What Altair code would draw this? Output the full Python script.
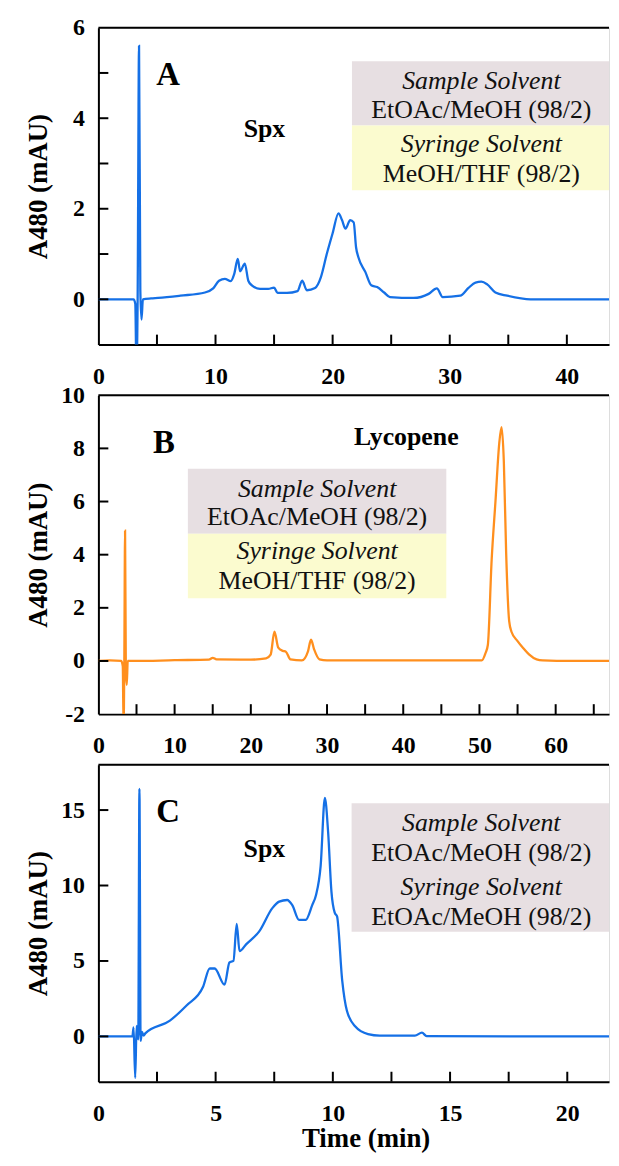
import altair as alt
import pandas as pd

FONT = "'Liberation Serif', 'Times New Roman', 'DejaVu Serif', serif"
BLUE = "#1570e6"
ORANGE = "#ff8f1e"
MAUVE = "#e7dfe2"
YELLOW = "#fbfbcf"

# ---------------- Panel A (Spx, MeOH/THF syringe) ----------------
a_time = [0, 1.0, 2.0, 3.0, 3.15, 3.25, 3.35, 3.47, 3.58, 3.68, 3.8, 4.5, 5.1, 7.0, 9.1,
          9.8, 10.3, 10.8, 11.3, 11.6, 11.9, 12.1, 12.5, 12.8, 13.1, 13.8, 14.5, 15.0,
          15.3, 16.1, 17.0, 17.4, 17.8, 18.5, 19.0, 19.5, 20.0, 20.5, 20.8, 21.1, 21.5,
          21.8, 22.0, 22.2, 22.8, 23.3, 23.8, 24.4, 24.9, 26.9, 28.2, 28.9, 29.4, 30.9,
          31.6, 32.2, 32.7, 33.2, 33.9, 34.9, 36.9, 40.0, 43.6]
a_abs = [0, 0.0, 0.0, 0.0, -0.1, -1.6, 0.0, 5.6, 0.2, -0.45, 0.0, 0.02, 0.03, 0.08, 0.15,
         0.24, 0.41, 0.45, 0.4, 0.56, 0.89, 0.62, 0.79, 0.41, 0.31, 0.23, 0.23, 0.26,
         0.14, 0.14, 0.18, 0.41, 0.2, 0.25, 0.49, 1.0, 1.46, 1.9, 1.75, 1.56, 1.75,
         1.7, 1.15, 0.93, 0.6, 0.31, 0.27, 0.15, 0.05, 0.03, 0.12, 0.24, 0.05, 0.08,
         0.25, 0.37, 0.39, 0.33, 0.15, 0.08, 0.0, 0.0, 0.0]
a_xlabels = [0, 10, 20, 30, 40]
a_xticks = [5, 10, 15, 20, 25, 30, 35, 40]
a_ylabels = [0, 2, 4, 6]
a_yticks = [0, 1, 2, 3, 4, 5]

# ---------------- Panel B (Lycopene) ----------------
b_time = [0, 1.5, 3.0, 3.2, 3.3, 3.4, 3.5, 3.6, 3.72, 3.85, 5, 10, 14.5, 15.0, 15.5, 20,
          22.0, 22.6, 23.1, 23.6, 24.2, 24.6, 25.2, 26.7, 27.5, 27.9, 28.3, 29.0, 30, 40,
          50.3, 50.8, 51.1, 51.6, 52.1, 52.6, 52.9, 53.2, 53.5, 53.9, 54.2, 55.0, 55.7,
          56.5, 57.5, 58.3, 62, 67.0]
b_abs = [0, 0.02, 0.0, -0.2, -2.5, 0.0, 4.9, -0.3, -0.9, 0.0, 0.0, 0.03, 0.05, 0.12, 0.06,
         0.05, 0.1, 0.24, 1.1, 0.5, 0.38, 0.35, 0.06, 0.02, 0.36, 0.8, 0.44, 0.06, 0.02,
         0.02, 0.02, 0.3, 0.6, 3.8, 6.0, 8.2, 8.8, 7.5, 4.1, 1.5, 1.1, 0.75, 0.5, 0.25,
         0.06, 0.02, 0.0, 0.0]
b_xlabels = [0, 10, 20, 30, 40, 50, 60]
b_xticks = [5, 10, 15, 20, 25, 30, 35, 40, 45, 50, 55, 60, 65]
b_ylabels = [-2, 0, 2, 4, 6, 8, 10]
b_yticks = [0, 2, 4, 6, 8]

# ---------------- Panel C (Spx, EtOAc/MeOH syringe) ----------------
c_time = [0, 1.45, 1.5, 1.57, 1.63, 1.7, 1.75, 1.8, 1.86, 1.93, 2.0, 3.05, 3.76, 4.46,
          4.75, 4.96, 5.38, 5.59, 5.76, 5.9, 6.02, 6.3, 6.86, 7.42, 7.71, 8.05, 8.27,
          8.56, 8.84, 9.12, 9.28, 9.48, 9.66, 9.8, 9.94, 10.08, 10.18, 10.4, 10.6,
          10.96, 11.5, 12.0, 13.5, 13.8, 14.0, 18, 21.78]
c_abs = [0, 0.0, 0.6, -2.75, 0.7, -0.2, 16.4, -0.3, 0.3, 0.05, 0.2, 1.05, 2.05, 3.27,
         4.5, 4.5, 3.43, 4.9, 5.0, 7.45, 5.65, 6.1, 6.96, 8.5, 8.93, 9.04, 8.7,
         7.72, 7.72, 8.7, 9.36, 11.3, 15.8, 13.5, 9.6, 8.2, 7.95, 3.7, 1.7,
         0.65, 0.15, 0.05, 0.05, 0.25, 0.02, 0.0, 0.0]
c_xlabels = [0, 5, 10, 15, 20]
c_xticks = [2.5, 5, 7.5, 10, 12.5, 15, 17.5, 20]
c_ylabels = [0, 5, 10, 15]
c_yticks = [0, 5, 10, 15]

# ---------------- Annotations (data coordinates) ----------------
a_letter = {"x": [5.94], "y": [4.96], "t": ["A"]}
a_name = {"x": [14.18], "y": [3.77], "t": ["Spx"]}
a_boxes = {"x": [21.65, 21.65], "x2": [43.6, 43.6], "y": [5.26, 3.84], "y2": [3.84, 2.41],
           "c": [MAUVE, YELLOW]}
a_head = {"x": [32.7, 32.7], "y": [4.82, 3.42], "t": ["Sample Solvent", "Syringe Solvent"]}
a_body = {"x": [32.7, 32.7], "y": [4.19, 2.76], "t": ["EtOAc/MeOH (98/2)", "MeOH/THF (98/2)"]}

b_letter = {"x": [8.6], "y": [8.2], "t": ["B"]}
b_name = {"x": [40.4], "y": [8.43], "t": ["Lycopene"]}
b_boxes = {"x": [11.74, 11.74], "x2": [45.65, 45.65], "y": [7.23, 4.79], "y2": [4.79, 2.36],
           "c": [MAUVE, YELLOW]}
b_head = {"x": [28.7, 28.7], "y": [6.48, 4.12], "t": ["Sample Solvent", "Syringe Solvent"]}
b_body = {"x": [28.7, 28.7], "y": [5.43, 3.0], "t": ["EtOAc/MeOH (98/2)", "MeOH/THF (98/2)"]}

c_letter = {"x": [2.97], "y": [14.87], "t": ["C"]}
c_name = {"x": [7.08], "y": [12.44], "t": ["Spx"]}
c_boxes = {"x": [10.8], "x2": [21.78], "y": [15.45], "y2": [6.94], "c": [MAUVE]}
c_head = {"x": [16.33, 16.33], "y": [14.15, 9.89], "t": ["Sample Solvent", "Syringe Solvent"]}
c_body = {"x": [16.33, 16.33], "y": [12.18, 7.92], "t": ["EtOAc/MeOH (98/2)", "EtOAc/MeOH (98/2)"]}

W = 514


def panel(times, vals, color, xdom, ydom, H, xlabels, xticks, ylabels, yticks,
          letter, name, boxes, head, body, xtitle):
    xs = alt.Scale(domain=xdom, nice=False, zero=False)
    ys = alt.Scale(domain=ydom, nice=False, zero=False)

    xaxis_kw = dict(values=xlabels, ticks=False, tickSize=0, grid=False, domain=True,
                    domainColor="black", domainWidth=2, labelFont=FONT, labelFontSize=24,
                    labelFontWeight="bold", labelColor="black", labelPadding=20,
                    labelFlush=False, labelOverlap=False,
                    labelExpr="toString(datum.value)")
    if xtitle:
        xaxis = alt.Axis(title=xtitle, titleFont=FONT, titleFontSize=27,
                         titleFontWeight="bold", titleColor="black", titleY=57,
                         titleX=269, titleAlign="center",
                         titleBaseline="middle", **xaxis_kw)
    else:
        xaxis = alt.Axis(title="", **xaxis_kw)
    yaxis = alt.Axis(values=ylabels, ticks=False, tickSize=0, grid=False, domain=True,
                     domainColor="black", domainWidth=2, labelFont=FONT, labelFontSize=24,
                     labelFontWeight="bold", labelColor="black", labelPadding=14,
                     labelFlush=False, labelOverlap=False,
                     labelExpr="toString(datum.value)",
                     title="A480 (mAU)", titleFont=FONT, titleFontSize=27,
                     titleFontWeight="bold", titleColor="black", titleX=-60, titleY=H / 2,
                     titleAngle=270, titleAlign="center", titleBaseline="middle")

    def X(f):
        return alt.X(f, type="quantitative", scale=xs, axis=xaxis)

    def Y(f):
        return alt.Y(f, type="quantitative", scale=ys, axis=yaxis)

    df = pd.DataFrame({"t": times, "v": vals})
    rects = alt.Chart(pd.DataFrame(boxes)).mark_rect().encode(
        x=X("x"), x2="x2", y=Y("y"), y2="y2", color=alt.Color("c:N", scale=None))
    line = alt.Chart(df).mark_line(color=color, strokeWidth=2.3, clip=True,
                                   interpolate="monotone").encode(x=X("t"), y=Y("v"))
    let = alt.Chart(pd.DataFrame(letter)).mark_text(
        font=FONT, fontSize=33, fontWeight="bold", color="black",
        align="center", baseline="middle").encode(x=X("x"), y=Y("y"), text="t:N")
    nam = alt.Chart(pd.DataFrame(name)).mark_text(
        font=FONT, fontSize=26, fontWeight="bold", color="black",
        align="center", baseline="middle").encode(x=X("x"), y=Y("y"), text="t:N")
    hd = alt.Chart(pd.DataFrame(head)).mark_text(
        font=FONT, fontSize=26, fontStyle="italic", color="#111111",
        align="center", baseline="middle").encode(x=X("x"), y=Y("y"), text="t:N")
    bd = alt.Chart(pd.DataFrame(body)).mark_text(
        font=FONT, fontSize=26, color="#111111",
        align="center", baseline="middle").encode(x=X("x"), y=Y("y"), text="t:N")
    ytk = alt.Chart(pd.DataFrame({"v": yticks})).mark_rule(color="black", strokeWidth=2).encode(
        y=Y("v"), x=alt.value(0), x2=alt.value(10))
    xtk = alt.Chart(pd.DataFrame({"v": xticks})).mark_rule(color="black", strokeWidth=2).encode(
        x=X("v"), y=alt.value(H), y2=alt.value(H - 10))
    border = alt.Chart(pd.DataFrame({"v": [0]})).mark_rule(color="black", strokeWidth=2).encode(
        x=alt.value(0), x2=alt.value(W), y=alt.value(0))
    return alt.layer(rects, line, let, nam, hd, bd, ytk, xtk, border).properties(
        width=W, height=H)


pA = panel(a_time, a_abs, BLUE, [0, 43.6], [-1, 6], 319, a_xlabels, a_xticks, a_ylabels,
           a_yticks, a_letter, a_name, a_boxes, a_head, a_body, None)
pB = panel(b_time, b_abs, ORANGE, [0, 67.0], [-2, 10], 321, b_xlabels, b_xticks, b_ylabels,
           b_yticks, b_letter, b_name, b_boxes, b_head, b_body, None)
pC = panel(c_time, c_abs, BLUE, [0, 21.78], [-3, 18], 319, c_xlabels, c_xticks, c_ylabels,
           c_yticks, c_letter, c_name, c_boxes, c_head, c_body, "Time (min)")

chart = alt.vconcat(pA, pB, pC, spacing=51, bounds="flush").properties(
    padding={"left": 16, "top": 3, "right": 0, "bottom": 0}
).configure_view(strokeWidth=0).configure(background="white")

chart.save("out.html", embed_options={"renderer": "svg", "actions": False})
